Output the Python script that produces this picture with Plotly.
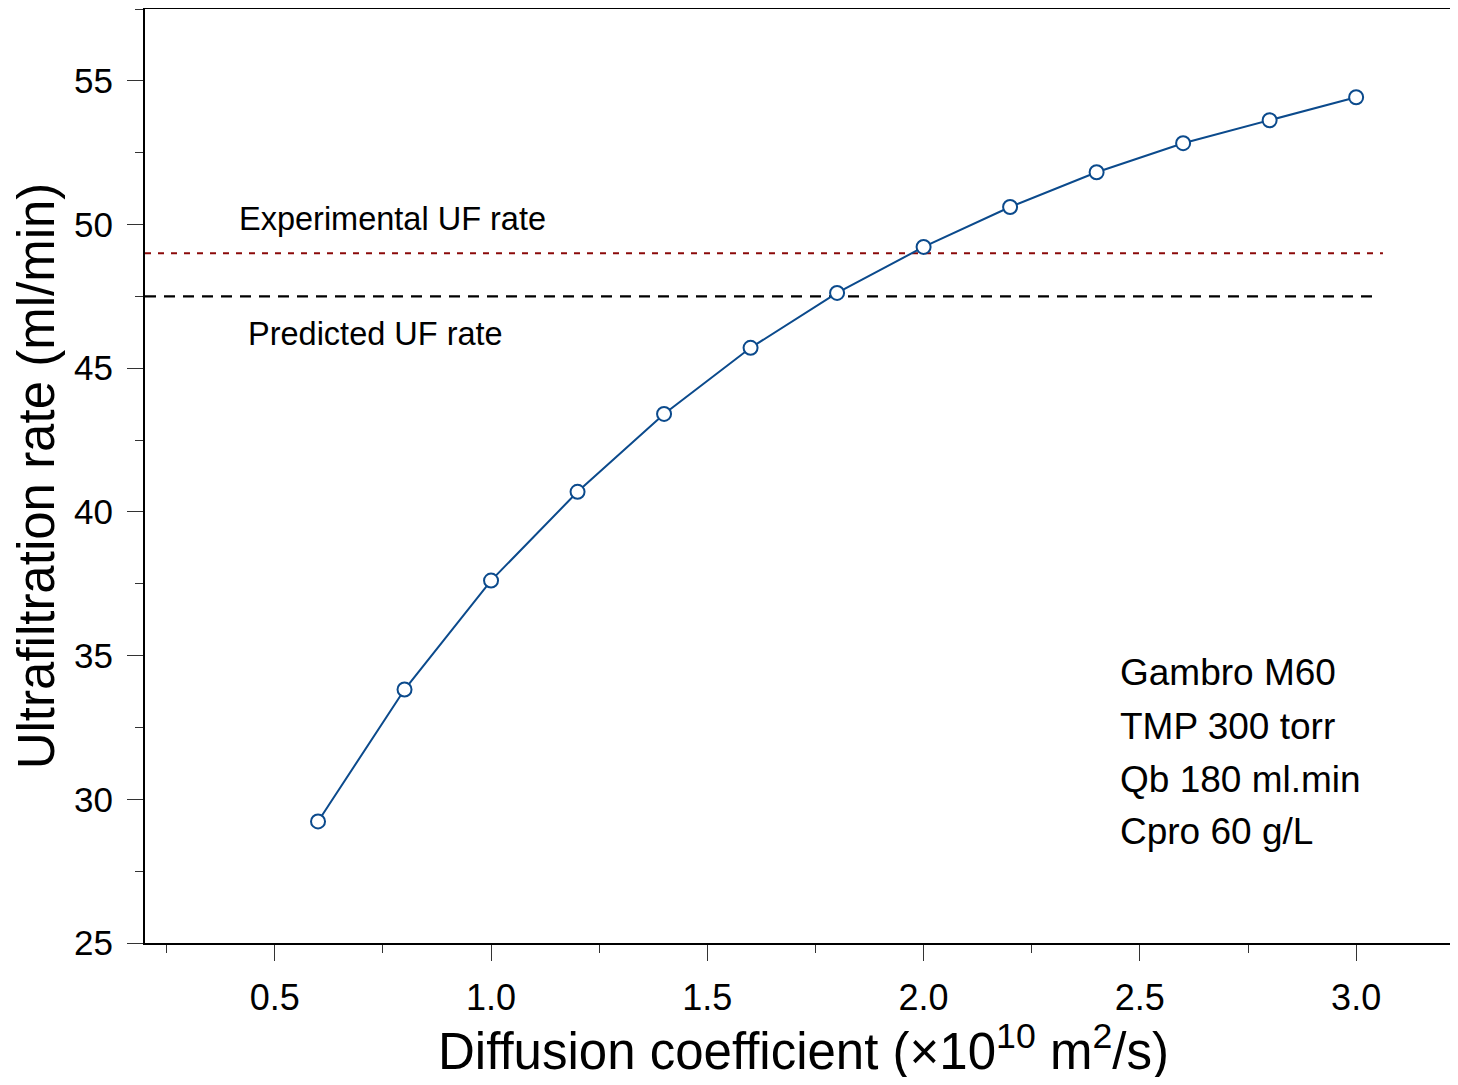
import plotly.graph_objects as go

# Data
diffusion = [0.6, 0.8, 1.0, 1.2, 1.4, 1.6, 1.8, 2.0, 2.2, 2.4, 2.6, 2.8, 3.0]
uf_rate = [29.23, 33.82, 37.61, 40.70, 43.41, 45.71, 47.62, 49.22, 50.61, 51.82, 52.83, 53.63, 54.43]
experimental_uf = 49.0
predicted_uf = 47.5
ref_line_x_exp = [0.2, 3.062]
ref_line_x_pred = [0.2, 3.039]
x_ticks = [0.5, 1.0, 1.5, 2.0, 2.5, 3.0]
x_tick_labels = ["0.5", "1.0", "1.5", "2.0", "2.5", "3.0"]
y_ticks = [25, 30, 35, 40, 45, 50, 55]
info_lines = ["Gambro M60", "TMP 300 torr", "Qb 180 ml.min", "Cpro 60 g/L"]
x_title = "Diffusion coefficient (\u00d710<sup>10</sup> m<sup>2</sup>/s)"
y_title = "Ultrafiltration rate (ml/min)"

FONT = "Liberation Sans, Arial, Helvetica, sans-serif"
BLUE = "#0b4a8c"

fig = go.Figure()

fig.add_trace(go.Scatter(
    x=ref_line_x_exp, y=[experimental_uf, experimental_uf], mode="lines",
    line=dict(color="#8b0a0a", width=2, dash="6px,7px"), hoverinfo="skip", showlegend=False))
fig.add_trace(go.Scatter(
    x=ref_line_x_pred, y=[predicted_uf, predicted_uf], mode="lines",
    line=dict(color="black", width=2.3, dash="11px,8px"), hoverinfo="skip", showlegend=False))

fig.add_trace(go.Scatter(
    x=diffusion, y=uf_rate, mode="lines+markers",
    line=dict(color=BLUE, width=2),
    marker=dict(symbol="circle", size=14, color="white", line=dict(color=BLUE, width=2)),
    showlegend=False))

annotations = [
    dict(x=0.413, y=50.19, text="Experimental UF rate", xanchor="left", yanchor="middle",
         showarrow=False, font=dict(family=FONT, size=32.5, color="black")),
    dict(x=0.4335, y=46.19, text="Predicted UF rate", xanchor="left", yanchor="middle",
         showarrow=False, font=dict(family=FONT, size=32.5, color="black")),
    dict(x=0.5046, y=-0.1124, xref="paper", yref="paper", text=x_title,
         xanchor="center", yanchor="middle", showarrow=False,
         font=dict(family=FONT, size=51, color="black")),
]
info_y = [34.41, 32.53, 30.69, 28.88]
for txt, yy in zip(info_lines, info_y):
    annotations.append(dict(x=2.45, y=yy, text=txt, xanchor="left", yanchor="middle",
                            showarrow=False, font=dict(family=FONT, size=37, color="black")))

fig.update_layout(
    width=1442, height=1069,
    margin=dict(l=137, r=0, t=1, b=134),
    paper_bgcolor="white", plot_bgcolor="white",
    font=dict(family=FONT, color="black"),
    annotations=annotations,
    xaxis=dict(
        range=[0.2, 3.217], showgrid=False, zeroline=False,
        showline=True, linecolor="black", linewidth=2, mirror=True,
        tickmode="array", tickvals=x_ticks, ticktext=x_tick_labels,
        ticks="outside", ticklen=16, tickwidth=1, tickcolor="#333",
        tickfont=dict(family=FONT, size=36), ticklabelstandoff=6,
        minor=dict(dtick=0.25, tick0=0.25, ticks="outside", ticklen=8, tickwidth=1, tickcolor="#333"),
    ),
    yaxis=dict(
        range=[25, 57.5], showgrid=False, zeroline=False,
        showline=True, linecolor="black", linewidth=2, mirror=False,
        tickmode="array", tickvals=y_ticks,
        ticks="outside", ticklen=16, tickwidth=1, tickcolor="#333",
        tickfont=dict(family=FONT, size=35), ticklabelstandoff=7,
        minor=dict(dtick=2.5, tick0=25, ticks="outside", ticklen=8, tickwidth=1, tickcolor="#333"),
        title=dict(text=y_title, font=dict(family=FONT, size=51), standoff=8),
    ),
)

fig.write_html("out.html")
